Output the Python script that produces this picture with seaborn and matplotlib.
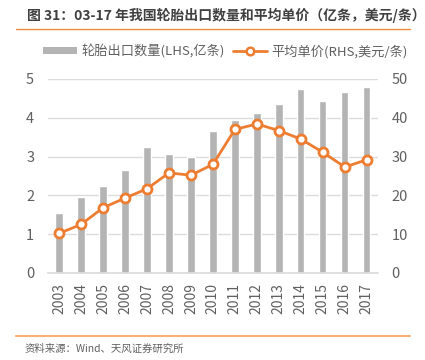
import numpy as np
import pandas as pd
import matplotlib
matplotlib.use('Agg')
import matplotlib.pyplot as plt
import seaborn as sns
from matplotlib.patches import Patch
from matplotlib.lines import Line2D

# chart data
years = ['2003', '2004', '2005', '2006', '2007', '2008', '2009', '2010',
         '2011', '2012', '2013', '2014', '2015', '2016', '2017']
export_qty = [1.55, 1.97, 2.24, 2.65, 3.24, 3.07, 2.99, 3.67,
              3.94, 4.12, 4.36, 4.73, 4.43, 4.67, 4.79]
avg_price = [10.2, 12.5, 16.8, 19.3, 21.7, 25.8, 25.2, 28.0,
             37.0, 38.4, 36.7, 34.5, 31.1, 27.3, 29.2]
left_ticks = [0, 1, 2, 3, 4, 5]
right_ticks = [0, 10, 20, 30, 40, 50]

df = pd.DataFrame({'year': years, 'qty': export_qty, 'price': avg_price})

sns.set_theme(style='white')
plt.rcParams['font.family'] = ['Noto Sans CJK SC', 'DejaVu Sans']

bar_color = '#b4b4b4'
line_color = '#ed7d31'
text_color = '#606060'
grid_color = '#dcdcdc'

fig = plt.figure(figsize=(4.25, 3.6), dpi=100)
ax = fig.add_axes([0.113, 0.2417, 0.776, 0.5389])

sns.barplot(data=df, x='year', y='qty', color=bar_color, width=0.33,
            saturation=1, ax=ax)
ax.set_ylim(0, 5)
ax.set_yticks(left_ticks)
ax.yaxis.grid(True, color=grid_color, linewidth=1)
ax.set_axisbelow(True)
ax.set_xlabel('')
ax.set_ylabel('')
for s in ['top', 'right', 'left']:
    ax.spines[s].set_visible(False)
ax.spines['bottom'].set_color(grid_color)
ax.set_xticks(np.arange(-0.5, len(years), 1), minor=True)
ax.tick_params(axis='x', which='major', length=0, pad=7, labelrotation=90,
               labelsize=10, labelcolor=text_color)
ax.tick_params(axis='x', which='minor', length=4, color=grid_color, width=1)
ax.tick_params(axis='y', length=0, pad=10, labelsize=10.5, labelcolor=text_color)

ax2 = ax.twinx()
sns.pointplot(data=df, x='year', y='price', color=line_color, ax=ax2,
              markers='o', markersize=6.5, markerfacecolor='white',
              markeredgecolor=line_color, markeredgewidth=2, linewidth=2)
ax2.set_ylim(0, 50)
ax2.set_yticks(right_ticks)
ax2.set_xlim(ax.get_xlim())
ax2.set_ylabel('')
ax2.set_xlabel('')
for s in ['top', 'right', 'left', 'bottom']:
    ax2.spines[s].set_visible(False)
ax2.tick_params(axis='y', length=0, pad=10, labelsize=10.5, labelcolor=text_color)
ax2.grid(False)

# legend
handles = [Patch(facecolor=bar_color, edgecolor='none'),
           Line2D([0], [0], color=line_color, linewidth=2, marker='o',
                  markersize=5.5, markerfacecolor='white',
                  markeredgecolor=line_color, markeredgewidth=1.8)]
labels = ['轮胎出口数量(LHS,亿条)', '平均单价(RHS,美元/条)']
fig.legend(handles, labels, loc='center', bbox_to_anchor=(0.53, 0.858),
           ncol=2, frameon=False, fontsize=9.5, labelcolor=text_color,
           handlelength=2.6, handleheight=0.5, columnspacing=0.6,
           handletextpad=0.3)

# title and source
fig.text(0.063, 0.958, '图 31：03-17 年我国轮胎出口数量和平均单价（亿条，美元/条）',
         fontsize=10, fontweight='bold', color='#404040', va='center', ha='left')
fig.add_artist(Line2D([0.038, 0.965], [0.92, 0.92], color='#f08a3c', linewidth=1))
fig.add_artist(Line2D([0.038, 0.965], [0.067, 0.067], color='#f7b07a', linewidth=1.5))
fig.text(0.058, 0.03, '资料来源：Wind、天风证券研究所', fontsize=7.5,
         color=text_color, va='center', ha='left')

fig.savefig('out.png', dpi=100, facecolor='white')
